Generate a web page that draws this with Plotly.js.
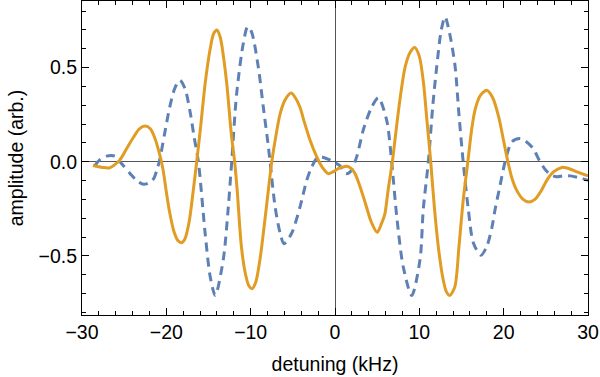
<!DOCTYPE html>
<html>
<head>
<meta charset="utf-8">
<script src="https://cdn.plot.ly/plotly-3.0.1.min.js"></script>
<style>
  html, body { margin: 0; padding: 0; background: #fff; }
  #chart { width: 600px; height: 377px; }
</style>
</head>
<body>
<div id="chart"></div>
<script>
// detuning (kHz) and amplitude, solid orange trace
const detuningSolid = [-28.7, -27.6, -26.8, -26.1, -25.5, -24.7, -23.9, -23.2, -22.5, -21.9, -21.4, -20.8, -20.4, -20.0,
  -19.6, -19.1, -18.6, -18.2, -17.8, -17.3, -16.8, -16.4, -15.9, -15.4, -14.8, -14.4, -14.0, -13.6, -13.2, -12.8,
  -12.3, -11.9, -11.6, -11.1, -10.6, -10.2, -9.85, -9.4, -8.9, -8.5, -7.9, -7.5, -7.0, -6.5, -5.9, -5.2, -4.7, -4.15,
  -3.7, -3.0, -2.2, -1.5, -0.8, -0.3, 0.4, 1.0, 1.4, 1.9, 2.4, 3.1, 3.6, 4.3, 5.0, 5.5, 5.9, 6.3, 6.8, 7.2, 7.7, 8.3,
  8.9, 9.45, 10.0, 10.5, 10.9, 11.35, 11.8, 12.3, 12.8, 13.2, 13.6, 14.2, 14.7, 15.2, 15.75, 16.2, 16.6, 17.2, 18.0,
  18.7, 19.4, 20.0, 20.5, 21.0, 21.55, 22.3, 23.0, 23.7, 24.5, 25.1, 25.9, 26.9, 27.5, 28.7, 30.0];
const amplitudeSolid = [-0.02, -0.03, -0.033, -0.015, 0.01, 0.07, 0.13, 0.175, 0.19, 0.175, 0.13, 0.04, -0.04, -0.16,
  -0.27, -0.37, -0.42, -0.43, -0.41, -0.32, -0.15, 0.0, 0.2, 0.415, 0.6, 0.68, 0.70, 0.66, 0.55, 0.4,
  0.15, 0.0, -0.15, -0.45, -0.6, -0.66, -0.675, -0.64, -0.52, -0.38, -0.15, 0.0, 0.14, 0.256, 0.33, 0.365, 0.34, 0.29,
  0.22, 0.12, 0.03, -0.03, -0.063, -0.055, -0.036, -0.027, -0.024, -0.035, -0.065, -0.15, -0.22, -0.32, -0.375, -0.33, -0.28, -0.15, 0.0, 0.15, 0.33, 0.5,
  0.58, 0.607, 0.56, 0.416, 0.22, 0.0, -0.25, -0.47, -0.62, -0.69, -0.71, -0.666, -0.45, -0.205, 0.0, 0.17, 0.274, 0.35, 0.38,
  0.34, 0.24, 0.11, 0.0, -0.09, -0.152, -0.2, -0.214, -0.2, -0.15, -0.1, -0.054, -0.03, -0.033, -0.054, -0.075];

// detuning (kHz) and amplitude, dashed blue trace
const detuningDashed = [-28.5, -27.9, -27.1, -26.1, -25.3, -24.3, -23.5, -22.7, -22.0, -21.5, -21.1, -20.8, -20.2,
  -19.6, -19.0, -18.4, -17.8, -17.2, -16.7, -16.2, -15.4, -14.8, -14.2, -13.25, -12.65, -12.25, -11.66, -10.87, -10.36,
  -9.9, -9.1, -8.5, -7.9, -7.7, -7.1, -6.5, -6.05, -5.14, -4.15, -3.36, -2.76, -1.98, -0.6, 0.0, 0.6, 1.3, 1.8, 2.57,
  3.36, 4.35, 5.14, 6.13, 6.72, 7.32, 8.1, 9.1, 10.08, 10.47, 11.07, 11.6, 12.06, 12.6, 13.05, 13.6, 14.23, 14.7, 15.2,
  15.8, 16.4, 17.3, 18.0, 18.6, 19.0, 19.6, 20.17, 20.96, 21.9, 22.6, 23.5, 24.2, 24.9, 25.6, 26.3, 27.1, 27.9, 29.0, 30.0];
const amplitudeDashed = [-0.022, 0.01, 0.03, 0.03, -0.01, -0.063, -0.1, -0.12, -0.11, -0.09, -0.04, 0.008, 0.15,
  0.29, 0.39, 0.433, 0.39, 0.27, 0.13, 0.0, -0.38, -0.61, -0.71, -0.52, -0.24, 0.0, 0.363, 0.63, 0.717,
  0.69, 0.504, 0.29, 0.08, 0.0, -0.24, -0.38, -0.435, -0.38, -0.24, -0.1, -0.028, 0.026, 0.01, -0.005, -0.022, -0.063, -0.054, 0.026,
  0.17, 0.29, 0.34, 0.22, 0.0, -0.29, -0.56, -0.71, -0.52, -0.25, 0.0, 0.3, 0.504, 0.7, 0.77, 0.68, 0.51, 0.25, 0.0,
  -0.25, -0.43, -0.497, -0.45, -0.35, -0.25, -0.12, 0.0, 0.105, 0.123, 0.11, 0.07, 0.01, -0.04, -0.07, -0.08, -0.075, -0.075, -0.085, -0.098];

const xTicks = [-30, -20, -10, 0, 10, 20, 30];
const yTicks = [-0.5, 0.0, 0.5];

const font = { family: 'Liberation Sans, Arial, sans-serif', size: 19.5, color: '#000' };

const dashed = {
  x: detuningDashed,
  y: amplitudeDashed,
  mode: 'lines',
  type: 'scatter',
  line: { color: '#5E81B5', width: 3, dash: '9px,6px', shape: 'spline', smoothing: 0.8 },
  hoverinfo: 'skip'
};

const solid = {
  x: detuningSolid,
  y: amplitudeSolid,
  mode: 'lines',
  type: 'scatter',
  line: { color: '#E19C24', width: 3, shape: 'spline', smoothing: 0.8 },
  hoverinfo: 'skip'
};

const axisCommon = {
  showgrid: false,
  showline: true,
  linecolor: '#000',
  linewidth: 1,
  mirror: 'ticks',
  ticks: 'inside',
  ticklen: 7,
  tickcolor: '#000',
  zeroline: true,
  zerolinecolor: '#555',
  zerolinewidth: 1,
  tickfont: font
};

const layout = {
  width: 600,
  height: 377,
  margin: { l: 82, r: 12, t: 1, b: 62 },
  paper_bgcolor: '#fff',
  plot_bgcolor: '#fff',
  showlegend: false,
  font: font,
  xaxis: Object.assign({}, axisCommon, {
    range: [-30, 30],
    tickvals: xTicks,
    minor: { dtick: 2, tick0: 0, ticks: 'inside', ticklen: 4, tickcolor: '#000' },
    title: { text: 'detuning (kHz)', font: font, standoff: 14 }
  }),
  yaxis: Object.assign({}, axisCommon, {
    range: [-0.814, 0.854],
    tickvals: yTicks,
    tickformat: '.1f',
    minor: { dtick: 0.1, tick0: 0, ticks: 'inside', ticklen: 4, tickcolor: '#000' },
    title: { text: 'amplitude (arb.)', font: font, standoff: 9 }
  })
};

Plotly.newPlot('chart', [dashed, solid], layout, { displayModeBar: false, staticPlot: true });
</script>
</body>
</html>
